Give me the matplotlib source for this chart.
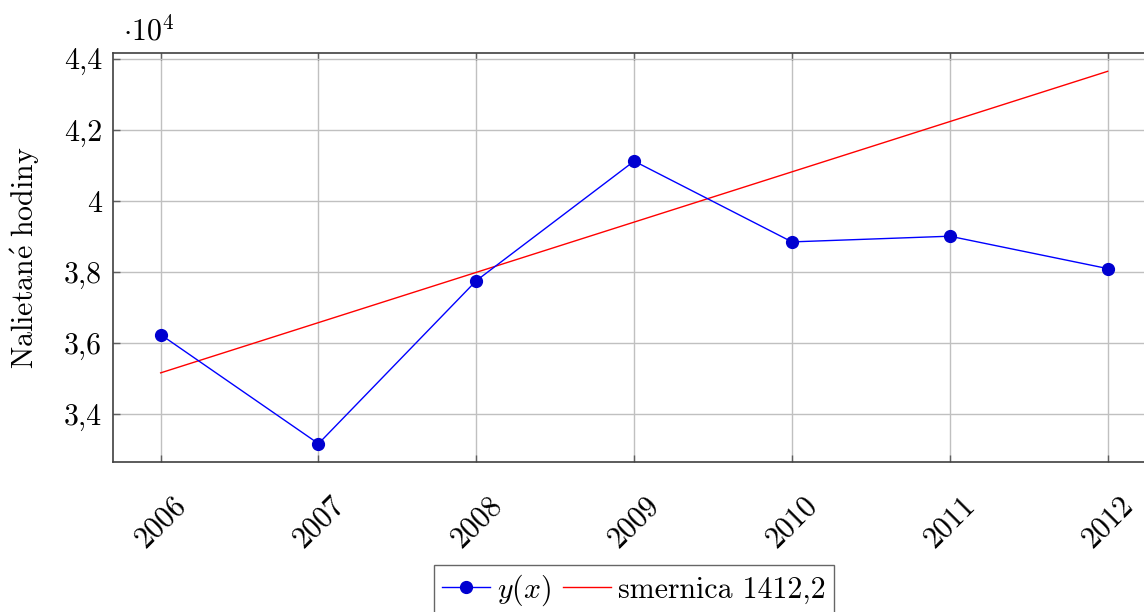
import numpy as np
import matplotlib
matplotlib.use("Agg")
import matplotlib.pyplot as plt
from matplotlib.ticker import FuncFormatter

# flight hours per year
roky = [2006, 2007, 2008, 2009, 2010, 2011, 2012]
hodiny = [36245, 33180, 37760, 41120, 38850, 39010, 38100]

# trend line: start value and slope
trend_start = 35170
smernica = 1412.2

plt.rcParams['font.family'] = ['cmr10', 'DejaVu Serif']
plt.rcParams['mathtext.fontset'] = 'cm'
plt.rcParams['axes.formatter.use_mathtext'] = True

FS = 21.5
W, H = 1144, 612
fig = plt.figure(figsize=(W / 100, H / 100), dpi=100)
ax = fig.add_axes([113.3 / W, (H - 462.3) / H, (1155 - 113.3) / W, (462.3 - 52.7) / H])

x = np.array(roky)
trend = trend_start + smernica * (x - roky[0])

ax.plot(x, hodiny, color='blue', lw=1.0, marker='o', markersize=8.5,
        markerfacecolor='#0000d0', markeredgecolor='#0000d0', label=r'$y(x)$', zorder=3)
ax.plot(x, trend, color='red', lw=1.0, label='smernica 1412,2', zorder=2)

ax.set_xlim(2005.7, 2012.3)
lo = min(min(hodiny), trend.min())
hi = max(max(hodiny), trend.max())
pad = 0.05 * (hi - lo)
ax.set_ylim(lo - pad, hi + pad)

ax.set_xticks(roky)
ax.set_xticklabels([str(r) for r in roky], rotation=45, ha='center', va='top', fontsize=FS)
ax.set_yticks([34000, 36000, 38000, 40000, 42000, 44000])
ax.yaxis.set_major_formatter(FuncFormatter(
    lambda v, p: ('%g' % round(v / 1e4, 1)).replace('.', ',')))
ax.tick_params(axis='y', labelsize=FS)

ax.grid(True, color='#c0c0c0', lw=1.0)
ax.set_axisbelow(True)
ax.tick_params(direction='in', length=5, width=1.0, color='#606060', top=True, right=True)
ax.tick_params(axis='x', pad=21)
ax.tick_params(axis='y', pad=8)
for s in ax.spines.values():
    s.set_color('#404040')
    s.set_linewidth(1.2)

ax.set_ylabel(r"$\mathrm{Nalietan\'{e}\ hodiny}$", fontsize=FS)
ax.yaxis.set_label_coords(-0.068, 0.5)

fig.text(123 / W, (H - 40) / H, r'$\cdot 10^4$', fontsize=FS, va='baseline', ha='left')

leg = fig.legend(loc='upper center', bbox_to_anchor=(634 / W, (H - 565) / H), ncol=2,
                 fontsize=FS, frameon=True, fancybox=False, edgecolor='#404040',
                 borderaxespad=0, handlelength=1.6, handletextpad=0.25, columnspacing=0.4,
                 borderpad=0.25)
leg.get_frame().set_linewidth(1.0)

fig.savefig('out.png', dpi=100)
